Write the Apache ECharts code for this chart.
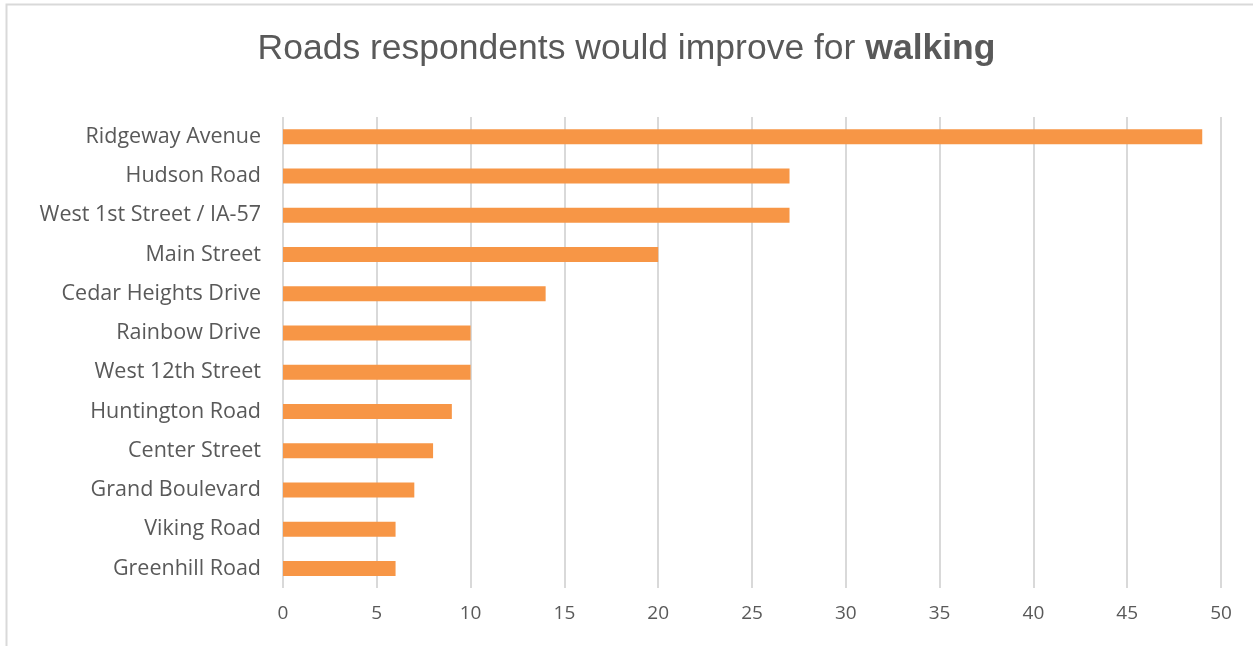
<!DOCTYPE html>
<html>
<head>
<meta charset="utf-8">
<script src="https://cdn.jsdelivr.net/npm/echarts@6/dist/echarts.min.js"></script>
<style>
  html, body { margin: 0; padding: 0; background: #fff; }
  #chart { width: 1253px; height: 646px; }
</style>
</head>
<body>
<div id="chart"></div>
<script>
// Road names, listed top to bottom as they appear on the chart
const roads = [
  'Ridgeway Avenue',
  'Hudson Road',
  'West 1st Street / IA-57',
  'Main Street',
  'Cedar Heights Drive',
  'Rainbow Drive',
  'West 12th Street',
  'Huntington Road',
  'Center Street',
  'Grand Boulevard',
  'Viking Road',
  'Greenhill Road'
];
// Number of respondents choosing each road
const responses = [49, 27, 27, 20, 14, 10, 10, 9, 8, 7, 6, 6];
// Value axis ticks
const tickValues = [0, 5, 10, 15, 20, 25, 30, 35, 40, 45, 50];

const chart = echarts.init(document.getElementById('chart'));
const textColor = '#595959';
const titleFont = '"Liberation Sans", sans-serif';
const labelFont = '"Open Sans", sans-serif';

chart.setOption({
  backgroundColor: '#ffffff',
  animation: false,
  graphic: [{
    type: 'rect',
    shape: { x: 6.5, y: 4.5, width: 1300, height: 700 },
    style: { fill: 'none', stroke: '#d9d9d9', lineWidth: 2 },
    z: -10
  }],
  title: {
    text: '{n|Roads respondents would improve for }{b|walking}',
    left: 'center',
    top: 26,
    textStyle: {
      fontWeight: 'normal',
      rich: {
        n: { fontFamily: titleFont, fontSize: 35.5, color: textColor, fontWeight: 'normal' },
        b: { fontFamily: titleFont, fontSize: 35.5, color: textColor, fontWeight: 'bold' }
      }
    }
  },
  grid: { left: 283, right: 32, top: 117, bottom: 58, containLabel: false },
  xAxis: {
    type: 'value',
    min: tickValues[0],
    max: tickValues[tickValues.length - 1],
    interval: 5,
    axisLine: { show: false },
    axisTick: { show: false },
    splitLine: { show: true, lineStyle: { color: '#d9d9d9', width: 2 } },
    axisLabel: { color: textColor, fontSize: 19, fontFamily: labelFont, margin: 16 }
  },
  yAxis: {
    type: 'category',
    data: roads,
    inverse: true,
    axisLine: { show: false },
    axisTick: { show: false },
    axisLabel: { color: textColor, fontSize: 21.5, fontFamily: labelFont, margin: 22 }
  },
  series: [{
    type: 'bar',
    data: responses,
    barWidth: 15,
    itemStyle: { color: '#f79646' }
  }]
});
</script>
</body>
</html>
